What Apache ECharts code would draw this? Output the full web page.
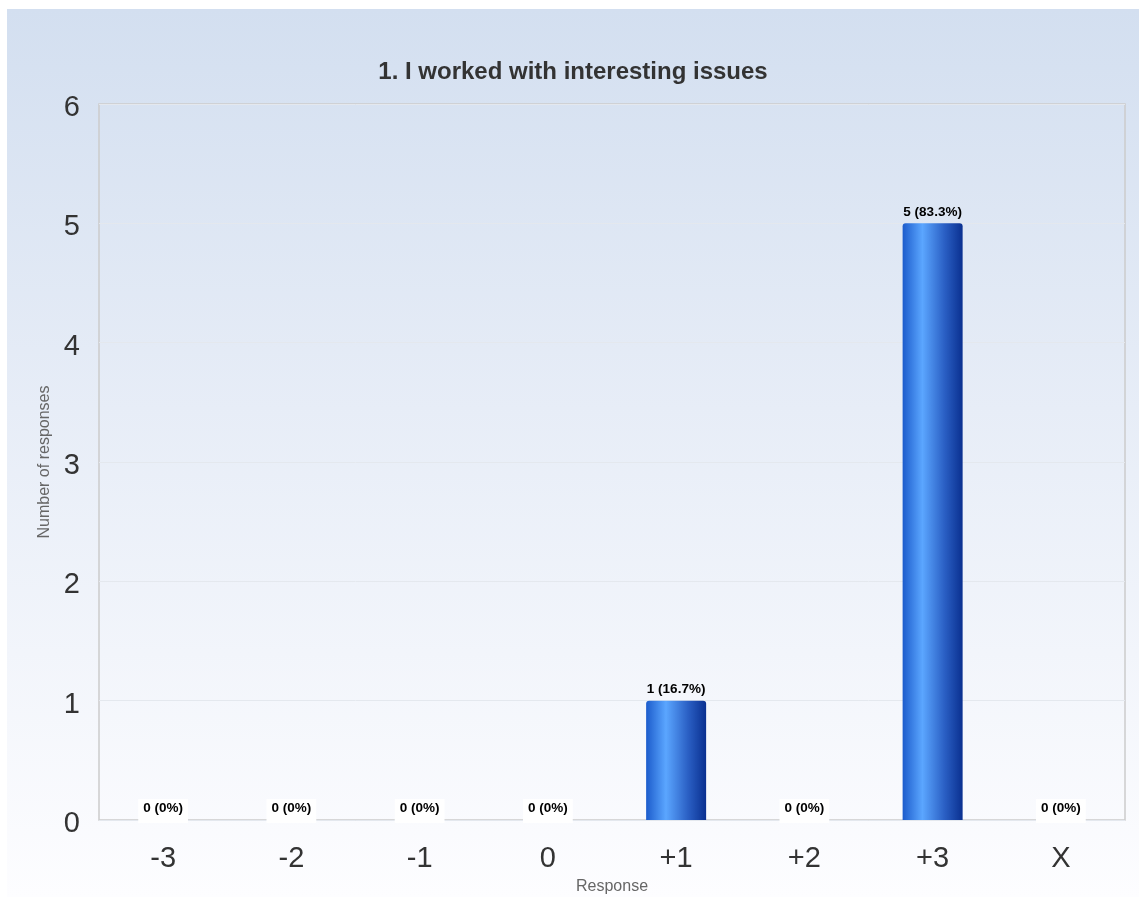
<!DOCTYPE html>
<html>
<head>
<meta charset="utf-8">
<script src="https://cdn.jsdelivr.net/npm/echarts@6/dist/echarts.min.js"></script>
<style>
html,body{margin:0;padding:0;background:#fff;width:1139px;height:897px;overflow:hidden;}
#panel{position:absolute;left:7px;top:9px;width:1132px;height:888px;background:linear-gradient(to bottom,#d3dff0 0%,#e7edf7 45%,#fdfdff 100%);}
#chart{width:1132px;height:888px;}
</style>
</head>
<body>
<div id="panel"><div id="chart"></div></div>
<script>
const titleText = "1. I worked with interesting issues";
const categories = ["-3", "-2", "-1", "0", "+1", "+2", "+3", "X"];
const counts = [0, 0, 0, 0, 1, 0, 5, 0];
const percents = ["0%", "0%", "0%", "0%", "16.7%", "0%", "83.3%", "0%"];
const yTicks = [0, 1, 2, 3, 4, 5, 6];

const barColor = new echarts.graphic.LinearGradient(0, 0, 1, 0, [
  {offset: 0, color: '#1c5ccc'},
  {offset: 0.33, color: '#5ba6ff'},
  {offset: 0.7, color: '#2a5fc4'},
  {offset: 1, color: '#0a3090'}
]);

const data = counts.map((v, i) => {
  const item = {value: v};
  if (v === 0) {
    item.label = {backgroundColor: '#ffffff', padding: [2, 5, 8, 5], distance: 0, offset: [0, 3]};
  }
  return item;
});

const chart = echarts.init(document.getElementById('chart'), null, {renderer: 'canvas'});
chart.setOption({
  backgroundColor: 'transparent',
  animation: false,
  title: {
    text: titleText,
    left: 'center',
    top: 46,
    textStyle: {fontFamily: 'Liberation Sans, Arial, sans-serif', fontSize: 24, fontWeight: 'bold', color: '#333'}
  },
  grid: {left: 92, top: 95, width: 1026, height: 716, outerBoundsMode: 'none', containLabel: false, show: true, borderColor: '#cccccc', borderWidth: 1.5, backgroundColor: 'transparent'},
  xAxis: {
    type: 'category',
    data: categories,
    name: 'Response',
    nameLocation: 'middle',
    nameGap: 59,
    nameTextStyle: {fontFamily: 'Liberation Sans, Arial, sans-serif', fontSize: 16, color: '#666'},
    axisLine: {show: false},
    axisTick: {show: false},
    axisLabel: {fontFamily: 'Liberation Sans, Arial, sans-serif', fontSize: 29, color: '#333', margin: 24}
  },
  yAxis: {
    type: 'value',
    min: yTicks[0],
    max: yTicks[yTicks.length - 1],
    interval: 1,
    name: 'Number of responses',
    nameLocation: 'middle',
    nameGap: 44,
    nameTextStyle: {fontFamily: 'Liberation Sans, Arial, sans-serif', fontSize: 16, color: '#666'},
    axisLine: {show: false},
    axisTick: {show: false},
    splitLine: {lineStyle: {color: '#e4e8ee', width: 1}},
    axisLabel: {fontFamily: 'Liberation Sans, Arial, sans-serif', fontSize: 29, color: '#333', margin: 19, verticalAlign: 'top', lineHeight: 8}
  },
  series: [{
    type: 'bar',
    data: data,
    barWidth: 60,
    itemStyle: {color: barColor, borderRadius: [3, 3, 0, 0]},
    label: {
      show: true,
      position: 'top',
      distance: 4,
      fontFamily: 'Liberation Sans, Arial, sans-serif',
      fontSize: 13.5,
      fontWeight: 'bold',
      color: '#000',
      formatter: p => counts[p.dataIndex] + ' (' + percents[p.dataIndex] + ')'
    }
  }]
});
</script>
</body>
</html>
